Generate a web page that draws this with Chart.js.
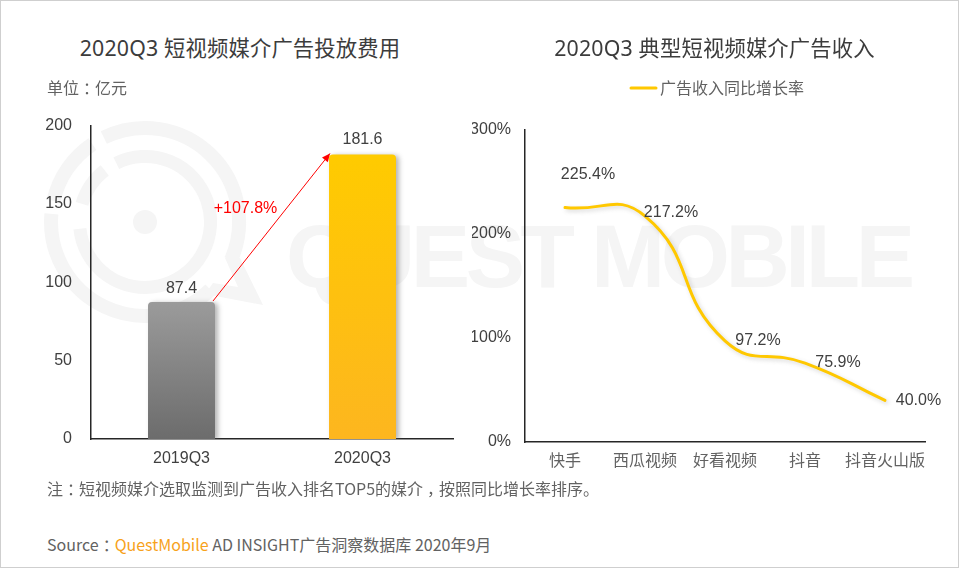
<!DOCTYPE html>
<html lang="zh">
<head>
<meta charset="utf-8">
<title>2020Q3 短视频媒介广告</title>
<script src="https://cdn.jsdelivr.net/npm/chart.js@4"></script>
<style>
  html, body { margin: 0; padding: 0; background: #fff; }
  #page { position: relative; width: 960px; height: 568px; overflow: hidden; background: #fff;
    font-family: "Noto Sans CJK SC", "Noto Sans", sans-serif; color: #626262; }
  #frame { position: absolute; left: 0; top: 0; width: 957px; height: 566px; border: 1px solid #cfcfcf; pointer-events: none; }
  .txt { position: absolute; white-space: nowrap; font-size: 16px; line-height: 22px; }
  .title { font-size: 21.33px; line-height: 30px; color: #3c3c3c; text-align: center; letter-spacing: 0.15px; font-family: "Noto Sans", "Noto Sans CJK SC", sans-serif; }
  .brand { color: #f7a21b; }
  .punct { position: relative; left: 4px; }
  canvas { position: absolute; }
  #mark { position: absolute; left: 0; top: 0; }
</style>
</head>
<body>
<div id="page">
  <svg id="mark" width="960" height="568">
    <g id="rings" fill="none" stroke="#f5f5f5"></g>
    <path d="M225 258 L240 258 L263 305 L205 294 L213 283 L238 287 Z" fill="#f5f5f5"/>
    <circle cx="145" cy="222" r="12" fill="#f5f5f5"/>
    <text x="286" y="287" font-family="Liberation Sans" font-weight="bold" font-size="89" fill="#f5f5f5" textLength="629">QUEST MOBILE</text>
  </svg>
  <canvas id="chartSpend" style="left:0;top:97px"></canvas>
  <canvas id="chartGrowth" style="left:472px;top:70px"></canvas>
  <div class="txt title" style="left:0;width:480px;top:33px">2020Q3 短视频媒介广告投放费用</div>
  <div class="txt title" style="left:474px;width:481px;top:33px">2020Q3 典型短视频媒介广告收入</div>
  <div class="txt" style="left:47px;top:76px">单位<span class="punct">：</span>亿元</div>
  <div class="txt" style="left:47px;top:477px">注<span class="punct">：</span>短视频媒介选取监测到广告收入排名TOP5的媒介<span class="punct">，</span>按照同比增长率排序。</div>
  <div class="txt" style="left:47px;top:533px">Source<span class="punct">：</span><span class="brand">QuestMobile</span> AD INSIGHT广告洞察数据库 2020年9月</div>
  <div id="frame"></div>
</div>
<script>
  const spendCategories = ["2019Q3", "2020Q3"];
  const spendValues = [87.4, 181.6];
  const spendLabels = ["87.4", "181.6"];
  const spendChange = "+107.8%";
  const spendTicks = [0, 50, 100, 150, 200];

  const growthCategories = ["快手", "西瓜视频", "好看视频", "抖音", "抖音火山版"];
  const growthValues = [225.4, 217.2, 97.2, 75.9, 40.0];
  const growthLabels = ["225.4%", "217.2%", "97.2%", "75.9%", "40.0%"];
  const growthSeries = "广告收入同比增长率";

  const latinFont = '"Liberation Sans", Arial, sans-serif';
  const cjkFont = '"Noto Sans CJK SC", "Noto Sans", sans-serif';
  const textDark = "#404040";
  const textMuted = "#626262";
  const axisColor = "#262626";
  const yellow = "#ffc800";

  // label nudges, px from the point the label belongs to
  const spendLabelOffset = [[0, -13], [0, -15]];
  const growthLabelOffset = [[23, -33], [26, -4], [33, 0], [33, 0], [33.5, 0]];

  // watermark logo arcs: radius, from deg, to deg (clockwise from +x)
  const logoArcs = [
    [94, 244, 384], [94, 406, 545], [94, 553, 596],
    [65.5, 244, 534], [65.5, 556, 592],
  ];
  const rings = document.getElementById("rings");
  logoArcs.forEach(([r, a0, a1]) => {
    const px = (a) => (145 + r * Math.cos((a * Math.PI) / 180)).toFixed(1);
    const py = (a) => (222 + r * Math.sin((a * Math.PI) / 180)).toFixed(1);
    const big = a1 - a0 > 180 ? 1 : 0;
    const p = document.createElementNS("http://www.w3.org/2000/svg", "path");
    p.setAttribute("d", `M${px(a0)} ${py(a0)} A${r} ${r} 0 ${big} 1 ${px(a1)} ${py(a1)}`);
    p.setAttribute("stroke-width", r > 80 ? 14 : 13);
    rings.appendChild(p);
  });

  const setSize = (id, w, h) => {
    const c = document.getElementById(id);
    c.width = w;
    c.height = h;
    c.style.width = w + "px";
    c.style.height = h + "px";
    return c;
  };

  const dropShadow = (color, blur, dx, dy) => ({
    id: "dropShadow",
    beforeDatasetDraw(chart) {
      const ctx = chart.ctx;
      ctx.save();
      ctx.shadowColor = color;
      ctx.shadowBlur = blur;
      ctx.shadowOffsetX = dx;
      ctx.shadowOffsetY = dy;
    },
    afterDatasetDraw(chart) {
      chart.ctx.restore();
    },
  });

  const pointLabels = (labels, offsets) => ({
    id: "pointLabels",
    afterDatasetsDraw(chart) {
      const ctx = chart.ctx;
      ctx.save();
      ctx.font = "16px " + latinFont;
      ctx.fillStyle = textDark;
      ctx.textAlign = "center";
      ctx.textBaseline = "middle";
      chart.getDatasetMeta(0).data.forEach((el, i) => {
        ctx.fillText(labels[i], el.x + offsets[i][0], el.y + offsets[i][1]);
      });
      ctx.restore();
    },
  });

  const changeArrow = {
    id: "changeArrow",
    afterDatasetsDraw(chart) {
      const ctx = chart.ctx;
      const [a, b] = chart.getDatasetMeta(0).data;
      const x0 = a.x + a.width / 2 - 2;
      const y0 = a.y - 1;
      const x1 = b.x - b.width / 2 + 1;
      const y1 = b.y - 1;
      const ang = Math.atan2(y1 - y0, x1 - x0);
      ctx.save();
      ctx.strokeStyle = "#ff0000";
      ctx.fillStyle = "#ff0000";
      ctx.lineWidth = 1;
      ctx.beginPath();
      ctx.moveTo(x0, y0);
      ctx.lineTo(x1, y1);
      ctx.stroke();
      ctx.beginPath();
      ctx.moveTo(x1, y1);
      ctx.lineTo(x1 - 9 * Math.cos(ang - 0.42), y1 - 9 * Math.sin(ang - 0.42));
      ctx.lineTo(x1 - 9 * Math.cos(ang + 0.42), y1 - 9 * Math.sin(ang + 0.42));
      ctx.closePath();
      ctx.fill();
      ctx.font = "16px " + latinFont;
      ctx.textAlign = "center";
      ctx.textBaseline = "middle";
      ctx.fillText(spendChange, (x0 + x1) / 2 - 26, (y0 + y1) / 2 - 19);
      ctx.restore();
    },
  };

  // the reference legend is a thin round-capped line sitting tight to its text
  const growthLegend = {
    id: "growthLegend",
    afterDraw(chart) {
      const ctx = chart.ctx;
      ctx.save();
      ctx.strokeStyle = yellow;
      ctx.lineWidth = 3;
      ctx.lineCap = "round";
      ctx.beginPath();
      ctx.moveTo(159, 18);
      ctx.lineTo(184, 18);
      ctx.stroke();
      ctx.font = "16px " + cjkFont;
      ctx.fillStyle = textMuted;
      ctx.textBaseline = "middle";
      ctx.fillText(growthSeries, 188, 18);
      ctx.restore();
    },
  };

  const barFill = (ctx) => {
    const chart = ctx.chart;
    const top = ["#9b9b9b", "#ffcb00"][ctx.dataIndex];
    const bottom = ["#6c6c6c", "#fdb61f"][ctx.dataIndex];
    if (!chart.chartArea) return top;
    const y = chart.scales.y;
    const g = chart.ctx.createLinearGradient(0, y.getPixelForValue(spendValues[ctx.dataIndex]), 0, y.getPixelForValue(0));
    g.addColorStop(0, top);
    g.addColorStop(1, bottom);
    return g;
  };

  new Chart(setSize("chartSpend", 480, 380), {
    type: "bar",
    data: {
      labels: spendCategories,
      datasets: [
        {
          data: spendValues,
          backgroundColor: barFill,
          borderRadius: { topLeft: 4, topRight: 4 },
          borderSkipped: false,
          categoryPercentage: 1,
          barPercentage: 0.37,
        },
      ],
    },
    options: {
      responsive: false,
      animation: false,
      layout: { padding: { left: 0, top: 20, right: 27, bottom: 0 } },
      plugins: { legend: { display: false }, tooltip: { enabled: false } },
      scales: {
        x: {
          grid: { display: false, drawTicks: false },
          border: { color: axisColor, width: 1.5 },
          ticks: { color: textDark, padding: 10, font: { size: 16, family: latinFont } },
          afterFit: (s) => { s.height = 38; },
        },
        y: {
          min: 0,
          max: 200,
          afterBuildTicks: (s) => { s.ticks = spendTicks.map((v) => ({ value: v })); },
          grid: { display: false, drawTicks: false },
          border: { color: axisColor, width: 1.5 },
          ticks: { color: textDark, padding: 19, font: { size: 16, family: latinFont } },
          afterFit: (s) => { s.width = 91; },
        },
      },
    },
    plugins: [dropShadow("rgba(90,90,90,0.45)", 5, 3, 1), pointLabels(spendLabels, spendLabelOffset), changeArrow],
  });

  new Chart(setSize("chartGrowth", 488, 410), {
    type: "line",
    data: {
      labels: growthCategories,
      datasets: [
        {
          label: growthSeries,
          data: growthValues,
          borderColor: yellow,
          backgroundColor: yellow,
          borderWidth: 3,
          borderCapStyle: "round",
          pointRadius: 0,
          tension: 0.5,
          fill: false,
        },
      ],
    },
    options: {
      responsive: false,
      animation: false,
      layout: { padding: { left: 0, top: 60, right: 35, bottom: 0 } },
      plugins: { tooltip: { enabled: false }, legend: { display: false } },
      scales: {
        x: {
          offset: true,
          grid: { display: false, drawTicks: false },
          border: { color: axisColor, width: 1.5 },
          ticks: { color: textMuted, padding: 8, maxRotation: 0, autoSkip: false, font: { size: 16, family: cjkFont } },
          afterFit: (s) => { s.height = 38; },
        },
        y: {
          min: 0,
          max: 300,
          grid: { display: false, drawTicks: false },
          border: { color: axisColor, width: 1.5 },
          ticks: {
            color: textDark,
            padding: 14,
            stepSize: 100,
            font: { size: 16, family: latinFont },
            callback: (v) => v + "%",
          },
          afterFit: (s) => { s.width = 53; },
        },
      },
    },
    plugins: [dropShadow("rgba(120,120,120,0.3)", 4, 2, 2), pointLabels(growthLabels, growthLabelOffset), growthLegend],
  });
</script>
</body>
</html>
